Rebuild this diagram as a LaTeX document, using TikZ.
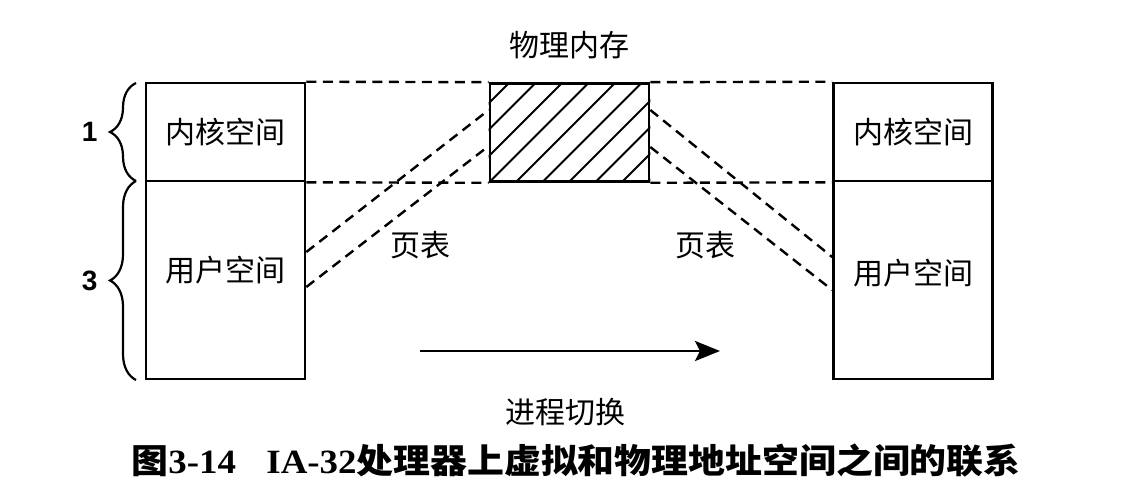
\documentclass[tikz,border=0pt]{standalone}
\usepackage{fontspec}
\newfontfamily\cjk{Noto Sans CJK SC}
\newfontfamily\capserif{Liberation Serif}
\newfontfamily\numsans{Liberation Sans}
\usetikzlibrary{arrows.meta,calc,decorations.pathreplacing,positioning}
\tikzset{
    vm diagram/.style = {x=1pt, y=-1pt,
                         >={Stealth[length=25pt,width=20pt,inset=5pt]}},
    line/.style       = {line width=2.8pt},
    region/.style     = {draw, line width=2.6pt, minimum width=159pt,
                         inner sep=0pt, font=\cjk\fontsize{30}{30}\selectfont},
    kernel/.style     = {region, minimum height=98pt},
    user/.style       = {region, minimum height=198pt},
    map/.style        = {line width=2.4pt, dash pattern=on 10pt off 6.5pt},
    hatch/.style      = {line width=2pt},
    lbl/.style        = {font=\cjk\fontsize{30}{30}\selectfont},
    num/.style        = {font=\numsans\bfseries\fontsize{28}{28}\selectfont},
    span/.style       = {line width=2.2pt, decorate,
                         decoration={brace, amplitude=26pt, aspect=0.5}},
    caption/.style    = {anchor=west, font=\fontsize{34}{34}\selectfont\bfseries}
}

\begin{document}
\begin{tikzpicture}[vm diagram]
\useasboundingbox (0,0) rectangle (1134,492);

% Virtual address space of the first process.
\node[kernel] (kernl) at (225.5,132) {内核空间};
\node[user] (userl) at (225.5,280) {};
\node[lbl] (userltext) at (225.5,270) {用户空间};

% Physical memory.
\node[kernel] (mem) at (569.5,132.5) {};
\node[lbl] (memtext) at (569,45) {物理内存};
\begin{scope}
  \clip (mem.south west) rectangle (mem.north east);
  \foreach \i in {-4,...,6}
    \draw[hatch] ($(mem.south west)+(\i*26.5,0)$) -- ++(140,-140);
\end{scope}
\node[kernel, fill=none] at (mem) {};

% Virtual address space of the second process.
\node[kernel] (kernr) at (913,132) {内核空间};
\node[user] (userr) at (913,280) {};
\node[lbl] (userrtext) at (913,273) {用户空间};

% Kernel part maps to the same frames.
\draw[map] (kernl.north east) -- (mem.north west);
\draw[map] (kernl.south east) -- (mem.south west);
\draw[map] (mem.north east) -- (kernr.north west);
\draw[map] (mem.south east) -- (kernr.south west);

% Page tables of the user parts.
\draw[map] ([yshift=28pt]userl.east) -- ([yshift=22.5pt]mem.west);
\draw[map] ([yshift=-7pt]userl.east) -- ([yshift=-13.5pt]mem.west);
\draw[map] ([yshift=22.5pt]mem.east) -- ([yshift=23pt]userr.west);
\draw[map] ([yshift=-14.5pt]mem.east) -- ([yshift=-10pt]userr.west);
\node[lbl] (ptl) at (420,245) {页表};
\node[lbl] (ptr) at (705,245) {页表};

% GB split.
\draw[span] (136,181) -- node[num, left=34pt] (gbone) {1} (136,83);
\draw[span] (136,380) -- node[num, left=34pt] (gbthree) {3} (136,181);

% Context switch.
\coordinate (swfrom) at (420,351);
\coordinate (swto) at (720,351);
\draw[->, line] (swfrom) -- (swto);
\node[lbl] (swtext) at (565,412) {进程切换};

\node[caption] (fig) at (128,461)
  {\scalebox{1.085}[1]{{\cjk 图}{\capserif 3-14}\hspace{28pt}{\capserif IA-32}{\cjk 处理器上虚拟和物理地址空间之间的联系}}};

\end{tikzpicture}
\end{document}
